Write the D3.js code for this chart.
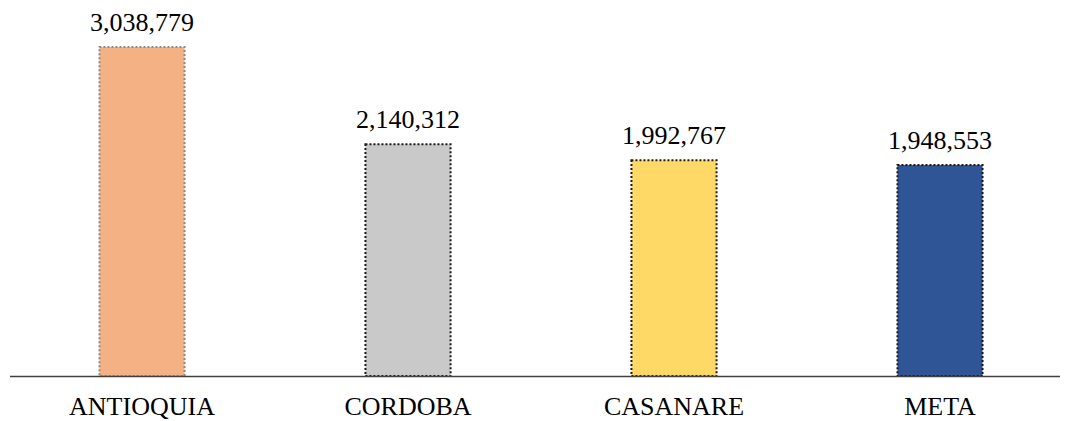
<!DOCTYPE html>
<html>
<head>
<meta charset="utf-8">
<script src="https://cdn.jsdelivr.net/npm/d3@7"></script>
<style>
  body { margin: 0; background: #fff; }
  svg { display: block; font-family: "Liberation Serif", "Times New Roman", serif; }
</style>
</head>
<body>
<div id="chart"></div>
<script>
//~~~~~~~~~~~~~~~~~~~~~~~~~~~~~~~~~~~~
// Data
//~~~~~~~~~~~~~~~~~~~~~~~~~~~~~~~~~~~~
const departments = ["ANTIOQUIA", "CORDOBA", "CASANARE", "META"];
const values = [3038779, 2140312, 1992767, 1948553];
const fills = ["#F4B183", "#C9C9C9", "#FFD966", "#2F5597"];
const borders = ["#8C8C8C", "#1a1a1a", "#1a1a1a", "#1a1a1a"];

//~~~~~~~~~~~~~~~~~~~~~~~~~~~~~~~~~~~~
// Bar chart
//~~~~~~~~~~~~~~~~~~~~~~~~~~~~~~~~~~~~
function createBarChart() {
    const width = 1066;
    const height = 421;
    const baseline = 376;

    const svg = d3.select("#chart")
        .append("svg")
        .attr("width", width)
        .attr("height", height);

    const x = d3.scaleBand()
        .domain(departments)
        .range([9, 1073])
        .paddingInner(0.68)
        .paddingOuter(0.34);

    const y = d3.scaleLinear()
        .domain([0, d3.max(values)])
        .range([baseline, 47]);

    const data = departments.map((d, i) => ({name: d, value: values[i], fill: fills[i], border: borders[i]}));

    svg.append("g")
        .selectAll("rect")
        .data(data)
        .join("rect")
        .attr("x", d => x(d.name))
        .attr("y", d => y(d.value))
        .attr("width", x.bandwidth())
        .attr("height", d => baseline - y(d.value))
        .attr("fill", d => d.fill)
        .attr("stroke", d => d.border)
        .attr("stroke-width", 2)
        .attr("stroke-dasharray", "2,2");

    // value labels
    svg.append("g")
        .selectAll("text")
        .data(data)
        .join("text")
        .attr("x", d => x(d.name) + x.bandwidth() / 2)
        .attr("y", d => y(d.value) - 16)
        .attr("text-anchor", "middle")
        .attr("font-size", 26)
        .attr("fill", "#000")
        .text(d => d3.format(",d")(d.value));

    // baseline
    svg.append("line")
        .attr("x1", 10)
        .attr("x2", 1060)
        .attr("y1", baseline + 0.5)
        .attr("y2", baseline + 0.5)
        .attr("stroke", "#404040")
        .attr("stroke-width", 1.5);

    // category labels
    svg.append("g")
        .selectAll("text")
        .data(data)
        .join("text")
        .attr("x", d => x(d.name) + x.bandwidth() / 2)
        .attr("y", 415)
        .attr("text-anchor", "middle")
        .attr("font-size", 26)
        .attr("fill", "#000")
        .text(d => d.name);
}

createBarChart();
</script>
</body>
</html>
